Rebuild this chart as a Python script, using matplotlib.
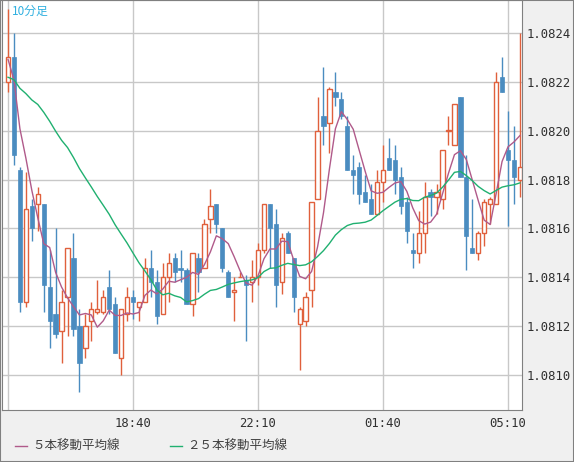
import matplotlib
matplotlib.use("Agg")
import matplotlib.pyplot as plt
import numpy as np
from matplotlib.lines import Line2D

# prices in units of 1e-5
opens = [108220,108230,108184,108130,108169,108170,108170,108136,108125,108118,
         108132,108148,108120,108111,108122,108126,108126,108136,108129,108107,
         108125,108132,108128,108130,108144,108138,108125,108140,108148,108144,
         108143,108129,108148,108144,108164,108170,108160,108142,108134,108140,
         108139,108138,108140,108151,108170,108162,108138,108158,108148,108121,
         108122,108135,108172,108206,108203,108216,108213,108202,108184,108185,
         108175,108172,108166,108179,108189,108188,108181,108171,108151,108150,
         108158,108175,108173,108172,108200,108194,108214,108181,108152,108150,
         108158,108170,108170,108222,108192,108188,108180]
highs = [108250,108240,108185,108183,108172,108177,108170,108151,108160,108135,
         108152,108158,108127,108125,108130,108139,108135,108143,108132,108127,
         108136,108135,108130,108148,108151,108143,108146,108150,108150,108151,
         108144,108150,108150,108164,108176,108170,108160,108143,108140,108142,
         108141,108147,108154,108170,108170,108168,108158,108159,108148,108128,
         108134,108171,108214,108226,108218,108224,108216,108206,108190,108187,
         108182,108178,108184,108194,108197,108194,108185,108173,108158,108167,
         108179,108176,108178,108192,108206,108211,108214,108190,108172,108159,
         108172,108173,108224,108230,108208,108202,108240]
lows = [108216,108186,108126,108128,108155,108159,108126,108111,108115,108105,
        108116,108116,108093,108107,108114,108125,108125,108125,108109,108100,
        108122,108123,108122,108130,108132,108121,108125,108130,108138,108138,
        108129,108124,108134,108144,108158,108158,108142,108132,108122,108140,
        108114,108130,108137,108150,108144,108128,108133,108150,108126,108102,
        108120,108128,108172,108194,108191,108210,108205,108184,108174,108170,
        108171,108166,108166,108171,108184,108174,108166,108154,108144,108146,
        108150,108165,108166,108168,108194,108194,108181,108143,108150,108147,
        108153,108162,108170,108216,108161,108170,108173]
closes = [108230,108190,108130,108168,108160,108174,108137,108122,108117,108130,
          108152,108119,108105,108120,108127,108127,108132,108127,108109,108127,
          108132,108130,108130,108144,108138,108124,108140,108146,108142,108143,
          108129,108150,108142,108162,108169,108162,108144,108132,108135,108140,
          108137,108140,108151,108170,108160,108137,108156,108150,108132,108127,
          108132,108171,108200,108202,108217,108214,108206,108184,108182,108174,
          108171,108166,108179,108184,108184,108180,108169,108159,108150,108158,
          108173,108173,108175,108192,108200,108211,108181,108157,108150,108158,
          108171,108172,108220,108216,108188,108181,108185]
prior_closes = [108215,108218,108222,108225,108220,108217,108214,108219,108223,108226,
                108221,108218,108216,108220,108224,108222,108219,108217,108221,108224,
                108232,108230,108228,108226]
tick_labels = ["18:40", "22:10", "01:40", "05:10"]
tick_index = [21, 42, 63, 84]
y_ticks = [1.0810, 1.0812, 1.0814, 1.0816, 1.0818, 1.0820, 1.0822, 1.0824]
legend_labels = ["５本移動平均線", "２５本移動平均線"]

S = 1e-5
o = np.array(opens) * S; h = np.array(highs) * S
l = np.array(lows) * S; c = np.array(closes) * S
allc = np.concatenate([np.array(prior_closes) * S, c])
def ma(n):
    return np.array([allc[i - n + 1:i + 1].mean() for i in range(len(prior_closes), len(allc))])
ma5 = ma(5); ma25 = ma(25)

RED = "#e0603c"; BLUE = "#4a8cc0"
fig = plt.figure(figsize=(5.74, 4.62), dpi=100, facecolor="#f0f0f0")
ax = fig.add_axes([2/574, 52/462, 520/574, 410/462], facecolor="white")
x = np.arange(len(c))
ax.set_xlim(-1.01, 86.35)
ax.set_ylim(1.080857, 1.082535)
for yt in y_ticks:
    ax.axhline(yt, color="#c8c8c8", lw=1, zorder=0)
for xi in [0] + tick_index:
    ax.axvline(xi, color="#c8c8c8", lw=1, zorder=0)

up = c >= o
ax.vlines(x[up], l[up], h[up], color=RED, lw=1, zorder=2)
ax.vlines(x[~up], l[~up], h[~up], color=BLUE, lw=1, zorder=2)
bw = 0.72
body = np.maximum(np.abs(c - o), 0.3e-5)
ax.bar(x[up], body[up], bottom=o[up], width=bw, facecolor="white", edgecolor=RED, lw=1, zorder=3)
ax.bar(x[~up], body[~up], bottom=c[~up], width=bw, facecolor=BLUE, edgecolor=BLUE, lw=0.5, zorder=3)
ax.plot(x, ma5, color="#b05a8a", lw=1, zorder=4)
ax.plot(x, ma25, color="#20b070", lw=1, zorder=4)

ax.yaxis.tick_right()
ax.set_yticks(y_ticks)
ax.set_yticklabels([f"{v:.4f}" for v in y_ticks], family="DejaVu Sans Mono", fontsize=8.8, color="#303030")
ax.set_xticks(tick_index)
ax.set_xticklabels(tick_labels, family="DejaVu Sans Mono", fontsize=8.8, color="#303030")
ax.tick_params(axis="y", length=0, pad=3)
ax.tick_params(axis="x", length=0, pad=5)
for s in ax.spines.values():
    s.set_color("#808080")

fig.text(12/574, 1 - 11/462, "10分足", color="#30b0e0", fontsize=8.5,
         family=["Noto Sans CJK JP", "DejaVu Sans"], va="center")
for xs, lab, col in [(15, legend_labels[0], "#b05a8a"), (170, legend_labels[1], "#20b070")]:
    fig.add_artist(Line2D([xs/574, (xs + 12)/574], [1 - 446/462] * 2, color=col, lw=1))
    fig.text((xs + 17)/574, 1 - 446/462, lab, fontsize=9, color="#404040",
             family=["Noto Sans CJK JP", "DejaVu Sans"], va="center")
fig.add_artist(plt.Rectangle((0, 0), 1, 1, transform=fig.transFigure, fill=False, ec="#808080", lw=1.5))
fig.savefig("out.png", dpi=100, facecolor=fig.get_facecolor())
